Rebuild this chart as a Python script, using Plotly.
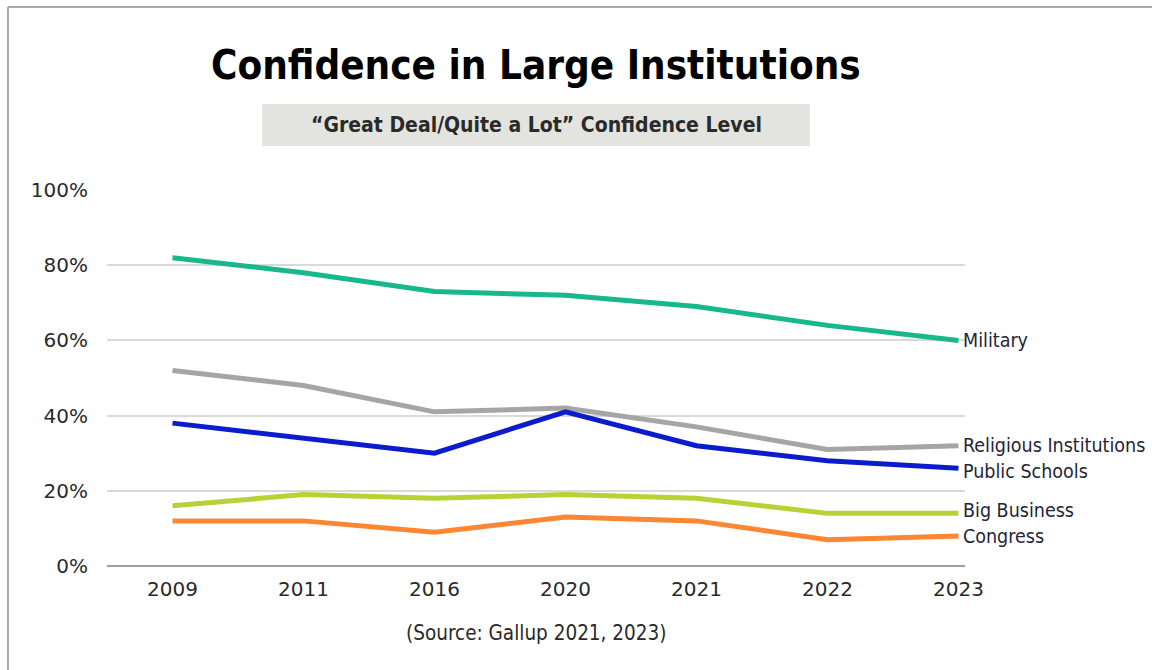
import plotly.graph_objects as go

years = ["2009", "2011", "2016", "2020", "2021", "2022", "2023"]
military = [82, 78, 73, 72, 69, 64, 60]
religious = [52, 48, 41, 42, 37, 31, 32]
public_schools = [38, 34, 30, 41, 32, 28, 26]
big_business = [16, 19, 18, 19, 18, 14, 14]
congress = [12, 12, 9, 13, 12, 7, 8]

series = [
    ("Military", military, "#17b88c", 0),
    ("Religious Institutions", religious, "#a5a5a5", 0),
    ("Public Schools", public_schools, "#0a1ccc", -3),
    ("Big Business", big_business, "#b6d335", 3),
    ("Congress", congress, "#fb8633", -1),
]

FONT = "DejaVu Sans Condensed, Roboto, sans-serif"
TICKFONT = "DejaVu Sans, Roboto, sans-serif"

fig = go.Figure()
for name, vals, color, _ in series:
    fig.add_trace(go.Scatter(x=years, y=vals, mode="lines", name=name,
                             line=dict(color=color, width=5), cliponaxis=False,
                             showlegend=False))

last = len(years) - 1
for name, vals, color, ys in series:
    fig.add_annotation(x=last, y=vals[-1], text=name, showarrow=False,
                       xanchor="left", yanchor="middle", xshift=3, yshift=ys,
                       font=dict(family=FONT, size=19.5, color="#25253a"))

# title
fig.add_annotation(xref="paper", yref="paper", x=0.5, y=1.332, text="<b>Confidence in Large Institutions</b>",
                   showarrow=False, xanchor="center", yanchor="middle",
                   font=dict(family=FONT, size=40, color="#000000"))
# subtitle box
fig.add_shape(type="rect", xref="paper", yref="paper", x0=0.1807, x1=0.8193, y0=1.117, y1=1.2287,
              fillcolor="#e3e3df", line=dict(width=0), layer="below")
fig.add_annotation(xref="paper", yref="paper", x=0.5, y=1.173,
                   text="<b>\u201cGreat Deal/Quite a Lot\u201d Confidence Level</b>",
                   showarrow=False, xanchor="center", yanchor="middle",
                   font=dict(family=FONT, size=21, color="#2a2a2a"))
# source
fig.add_annotation(xref="paper", yref="paper", x=0.5, y=-0.178, text="(Source: Gallup 2021, 2023)",
                   showarrow=False, xanchor="center", yanchor="middle",
                   font=dict(family=FONT, size=20.5, color="#2a2a2a"))
# border lines (top and left)
fig.add_shape(type="line", xref="paper", yref="paper", x0=-0.1154, x1=2.0, y0=1.4867, y1=1.4867,
              line=dict(color="#aaaaaa", width=2))
fig.add_shape(type="line", xref="paper", yref="paper", x0=-0.1154, x1=-0.1154, y0=-1.0, y1=1.4867,
              line=dict(color="#aaaaaa", width=2))

fig.update_layout(
    width=1152, height=670,
    margin=dict(l=107, r=187, t=190, b=104),
    paper_bgcolor="white", plot_bgcolor="white",
    font=dict(family=FONT, size=18, color="#333333"),
    xaxis=dict(type="category", range=[-0.5, 6.05], showgrid=False, showline=False,
               zeroline=False, ticks="", ticklabelstandoff=9,
               tickfont=dict(family=TICKFONT, size=20, color="#2a2a2a")),
    yaxis=dict(range=[0, 100], tickvals=[0, 20, 40, 60, 80, 100],
               ticktext=["0%", "20%", "40%", "60%", "80%", "100%"],
               showgrid=True, gridcolor="#d9d9d9", gridwidth=1.5,
               zeroline=True, zerolinecolor="#a0a0a0", zerolinewidth=2,
               showline=False, ticks="", ticklabelstandoff=18,
               tickfont=dict(family=TICKFONT, size=20, color="#2a2a2a")),
)

fig.write_html("out.html")
